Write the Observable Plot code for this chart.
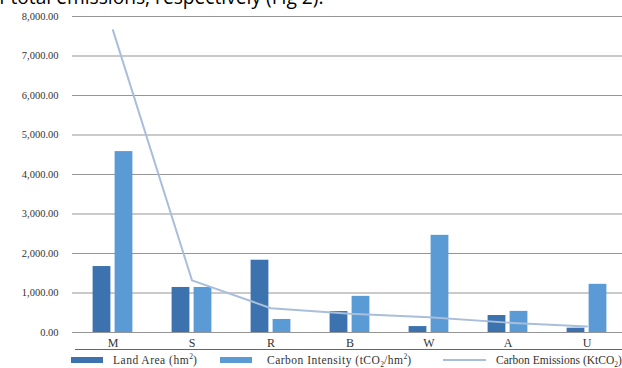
<!DOCTYPE html>
<html><head><meta charset="utf-8">
<script src="https://cdn.jsdelivr.net/npm/d3@7"></script>
<script src="https://cdn.jsdelivr.net/npm/@observablehq/plot@0.6"></script>
<style>
html,body{margin:0;padding:0;background:#fff;overflow:hidden;width:622px;height:368px}
#wrap{position:relative;width:622px;height:368px}
#chart{position:absolute;left:0;top:0}
#top{position:absolute;left:-1px;top:-15px;font:19.2px "Open Sans";white-space:nowrap;color:#000;line-height:24px}
#rule{position:absolute;left:75px;right:0;top:349px;height:1px;background:#666}
.lg{position:absolute;font:11.5px "Liberation Serif";color:#333;white-space:nowrap;line-height:12px;letter-spacing:0.5px}
.sw{position:absolute;height:6px;width:32px}
.ln{position:absolute;height:2px;width:43px;background:#a9bedb}
sub,sup{font-size:7.5px;line-height:0;letter-spacing:0}
</style></head>
<body><div id="wrap">
<div id="chart"></div>
<div id="top">f total emissions, respectively (Fig 2).</div>
<div id="rule"></div>
<div class="sw" style="left:71px;top:357px;background:#3c73ae"></div>
<div class="lg" style="left:113px;top:354px">Land Area (hm<sup>2</sup>)</div>
<div class="sw" style="left:220px;top:357px;background:#5b9bd5"></div>
<div class="lg" style="left:267px;top:354px">Carbon Intensity (tCO<sub>2</sub>/hm<sup>2</sup>)</div>
<div class="ln" style="left:443px;top:359px"></div>
<div class="lg" style="left:496px;top:354px;letter-spacing:0">Carbon Emissions (KtCO<sub>2</sub>)</div>
</div>
<script>
const categories = ["M","S","R","B","W","A","U"];
const landArea = [1670, 1140, 1830, 530, 150, 430, 110];
const carbonIntensity = [4580, 1140, 330, 915, 2460, 535, 1220];
const carbonEmissions = [7650, 1320, 615, 475, 385, 250, 150];
const yTicks = [0,1000,2000,3000,4000,5000,6000,7000,8000];

const rows = categories.map((c,i)=>({cat:c, land:landArea[i], intensity:carbonIntensity[i], emis:carbonEmissions[i]}));

const chart = Plot.plot({
  width: 622, height: 350,
  marginLeft: 72, marginRight: 0, marginTop: 16, marginBottom: 18,
  style: {fontFamily: "Liberation Serif", color: "#333", background: "transparent"},
  x: {type: "band", domain: categories, range: [72.4, 627.1], padding: 0, label: null},
  y: {domain: [0, 8000], label: null},
  marks: [
    Plot.gridY(yTicks, {stroke: "#959595", strokeOpacity: 1}),
    Plot.barY(rows, {x: "cat", y: "land", fill: "#3c73ae", insetLeft: 19.6, insetRight: 41.6}),
    Plot.barY(rows, {x: "cat", y: "intensity", fill: "#5b9bd5", insetLeft: 41.6, insetRight: 19.6}),
    Plot.line(rows, {x: "cat", y: "emis", stroke: "#a9bedb", strokeWidth: 2}),
    Plot.axisY({ticks: yTicks, tickFormat: d3.format(",.2f"), tickSize: 0, tickPadding: 14, fontSize: 10.5, label: null}),
    Plot.axisX({tickSize: 0, tickPadding: 6, fontSize: 12, label: null})
  ]
});
document.getElementById("chart").appendChild(chart);
</script>
</body></html>
